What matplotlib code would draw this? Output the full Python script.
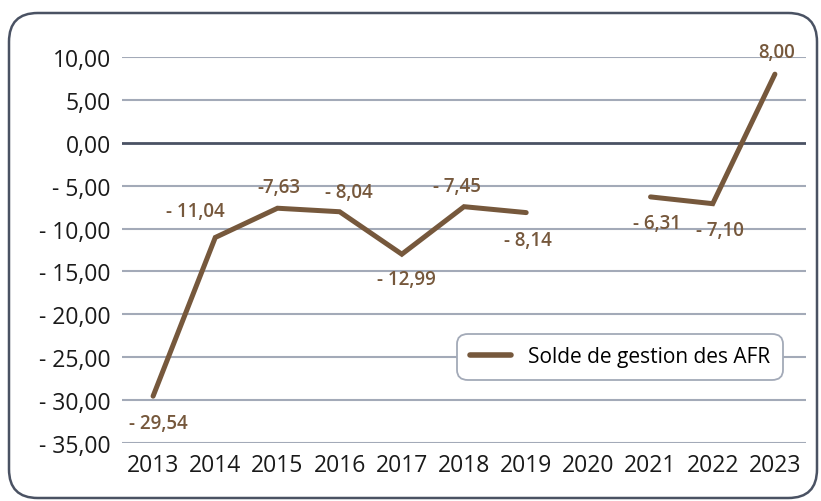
import matplotlib
matplotlib.use("Agg")
import matplotlib.pyplot as plt
import numpy as np
from matplotlib.patches import FancyBboxPatch
from matplotlib.ticker import FuncFormatter

plt.rcParams['font.family'] = ['Open Sans', 'DejaVu Sans']

years = ["2013", "2014", "2015", "2016", "2017", "2018", "2019", "2020", "2021", "2022", "2023"]
values = [-29.54, -11.04, -7.63, -8.04, -12.99, -7.45, -8.14, np.nan, -6.31, -7.10, 8.00]
labels = ["- 29,54", "- 11,04", "-7,63", "- 8,04", "- 12,99", "- 7,45", "- 8,14", "", "- 6,31", "- 7,10", "8,00"]
offsets = [(4, -19), (-14, 19), (1, 15.5), (7, 14.5), (3, -17.5), (-5, 15), (1.5, -19.5), (0, 0), (5, -19), (5, -19), (1, 16)]
series_name = "Solde de gestion des AFR"

brown = "#76583c"
grid_c = "#a3aab8"
dark = "#4a5263"

fig = plt.figure(figsize=(8.21, 5.02), dpi=100)
# rounded border
border = FancyBboxPatch((9/821, 1 - 499/502), (817 - 9)/821, (499 - 14)/502,
                        boxstyle="round,pad=0,rounding_size=0.035",
                        transform=fig.transFigure, fill=False, edgecolor=dark, lw=1.8,
                        mutation_aspect=821/502)
fig.patches.append(border)

ax = fig.add_axes([122/821, 1 - 444/502, (806 - 122)/821, (444 - 58)/502])
x = np.arange(len(years))
ax.plot(x, values, color=brown, lw=3.6, solid_capstyle='round', solid_joinstyle='miter', label=series_name, zorder=3)

for xi, v, lab, off in zip(x, values, labels, offsets):
    if lab:
        ax.annotate(lab, (xi, v), xytext=off, textcoords='offset points', ha='center', va='center',
                    color=brown, fontsize=13.5, fontweight='semibold', zorder=4)

ax.set_xlim(-0.5, len(years) - 0.5)
ax.set_ylim(-35, 10)
ax.set_yticks(np.arange(-35, 10.1, 5))
ax.set_xticks(x)
ax.set_xticklabels(years)

def fmt(v, pos):
    s = f"{abs(v):.2f}".replace('.', ',')
    return ("- " + s) if v < -1e-9 else s
ax.yaxis.set_major_formatter(FuncFormatter(fmt))

for yv in np.arange(-35, 10.1, 5):
    if abs(yv) < 1e-9:
        ax.axhline(yv, color=dark, lw=2, zorder=1)
    else:
        ax.axhline(yv, color=grid_c, lw=1.5, zorder=1)

for s in ax.spines.values():
    s.set_visible(False)
ax.tick_params(length=0, labelsize=16.5, colors="#1a1a1a", pad=8)
ax.tick_params(axis='x', pad=7)

leg = ax.legend(loc='center', bbox_to_anchor=(620/821, 1 - 358/502), bbox_transform=fig.transFigure,
                frameon=True, fancybox=True, fontsize=15, handlelength=2.0, handletextpad=0.8,
                borderpad=0.4, borderaxespad=0)
leg.get_frame().set_edgecolor(grid_c)
leg.get_frame().set_linewidth(1.3)
leg.get_frame().set_alpha(1)
leg.get_frame().set_boxstyle("round", pad=0.2, rounding_size=0.5)
for h in leg.get_lines():
    h.set_linewidth(4)
    h.set_solid_capstyle('round')

fig.savefig("out.png", dpi=100)
